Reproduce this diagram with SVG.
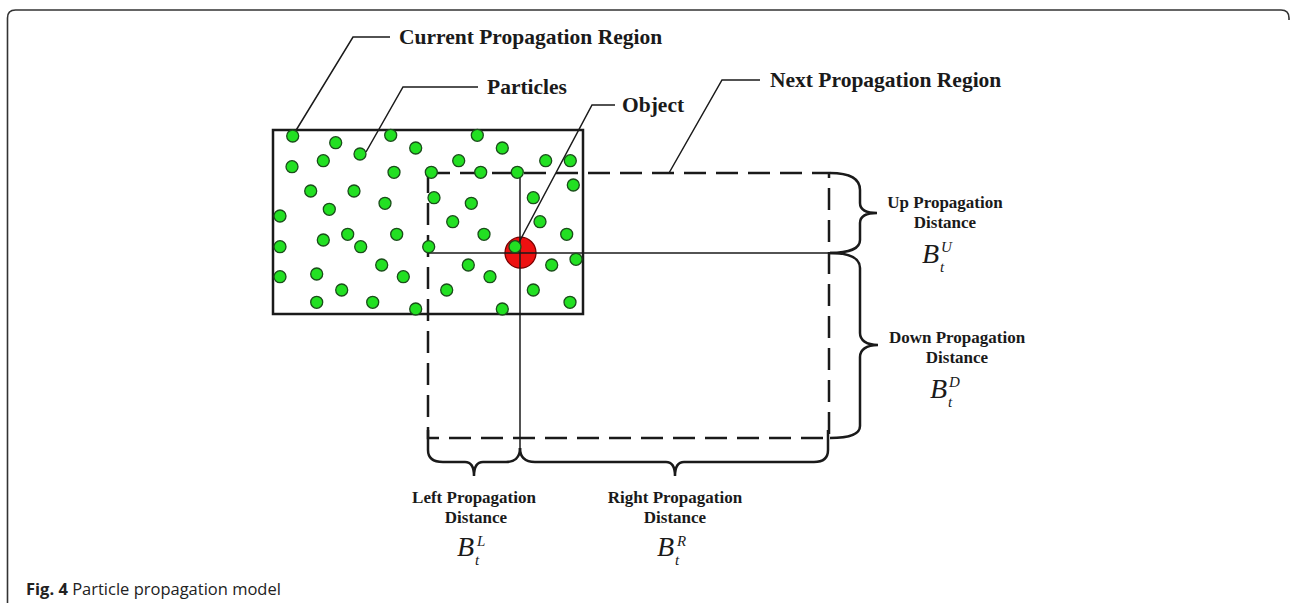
<svg xmlns="http://www.w3.org/2000/svg" width="1291" height="607" viewBox="0 0 1291 607">
<style>
.lbl{font-family:"Liberation Serif","Times New Roman",serif;font-weight:bold;fill:#1a1a1a}
.big{font-size:21.5px}
.sm{font-size:17px}
.math{font-family:"Liberation Serif","Times New Roman",serif;font-style:italic;fill:#1a1a1a}
.p{fill:#22e022;stroke:#1a4d1a;stroke-width:1.3}
.ln{stroke:#1a1a1a;fill:none;stroke-width:1.5}
.br{stroke:#1a1a1a;fill:none;stroke-width:2.5}
</style>
<rect width="1291" height="607" fill="#fff"/>
<path d="M7.5,603 V18 Q7.5,10 15.5,10 H1281 Q1289,10 1289,18 V20" fill="none" stroke="#333" stroke-width="1.6"/>

<g id="current-region">
<rect x="273" y="130" width="310" height="184" fill="none" stroke="#1a1a1a" stroke-width="2.5"/>
</g>
<g id="next-region">
<rect x="428" y="173" width="401" height="265" fill="none" stroke="#1a1a1a" stroke-width="2.5" stroke-dasharray="22 10"/>
</g>
<g id="object">
<circle cx="520.5" cy="252.7" r="15.5" fill="#ee1111" stroke="#7a0000" stroke-width="1.3"/>
</g>

<g id="connectors">
<polyline class="ln" points="295,132 353,37 390,37"/>
<polyline class="ln" points="366,152 403,87 478,87"/>
<polyline class="ln" points="516,248 592,105 615,105"/>
<polyline class="ln" points="669,173 722,80 760,80"/>
<line class="ln" x1="428" y1="253" x2="830" y2="253"/>
<line class="ln" x1="520" y1="173" x2="520" y2="452"/>
<path class="br" d="M830,173 C850,173 860,178 860,190 V203 C860,210 866,213 877,213 C866,213 860,216 860,223 V240 C860,248 850,253 830,253"/>
<path class="br" d="M830,253 C850,253 860,258 860,268 V333 C860,340 866,345 878,345 C866,345 860,350 860,357 V426 C860,434 850,438 830,438"/>
<path class="br" d="M428,430 V450 C428,458 433,462 443,462 H465 C470,462 474,466 474,476 C474,466 478,462 483,462 H506 C514,462 520,458 520,448"/>
<path class="br" d="M520,448 C520,458 526,462 535,462 H666 C671,462 675,466 675,476 C675,466 679,462 684,462 H814 C823,462 828,458 828,450 V430"/>
</g>

<g id="particles">
<circle class="p" cx="292.7" cy="136" r="6"/>
<circle class="p" cx="335.7" cy="142.7" r="6"/>
<circle class="p" cx="390.7" cy="135.3" r="6"/>
<circle class="p" cx="477.3" cy="135.3" r="6"/>
<circle class="p" cx="415.7" cy="148" r="6"/>
<circle class="p" cx="502.3" cy="148" r="6"/>
<circle class="p" cx="360" cy="154" r="6"/>
<circle class="p" cx="292" cy="166.7" r="6"/>
<circle class="p" cx="323.3" cy="160.7" r="6"/>
<circle class="p" cx="394" cy="172.3" r="6"/>
<circle class="p" cx="431.3" cy="172.3" r="6"/>
<circle class="p" cx="458.7" cy="160.7" r="6"/>
<circle class="p" cx="480.7" cy="172.3" r="6"/>
<circle class="p" cx="517.3" cy="172.3" r="6"/>
<circle class="p" cx="545.7" cy="160.7" r="6"/>
<circle class="p" cx="570.3" cy="160.7" r="6"/>
<circle class="p" cx="573.3" cy="185" r="6"/>
<circle class="p" cx="310.7" cy="191" r="6"/>
<circle class="p" cx="354" cy="191" r="6"/>
<circle class="p" cx="434" cy="197.7" r="6"/>
<circle class="p" cx="533.3" cy="197.7" r="6"/>
<circle class="p" cx="471.3" cy="203.3" r="6"/>
<circle class="p" cx="385" cy="203.3" r="6"/>
<circle class="p" cx="329.3" cy="209.3" r="6"/>
<circle class="p" cx="280" cy="216" r="6"/>
<circle class="p" cx="452.7" cy="221.7" r="6"/>
<circle class="p" cx="540" cy="221.7" r="6"/>
<circle class="p" cx="484" cy="234.3" r="6"/>
<circle class="p" cx="566.7" cy="234.3" r="6"/>
<circle class="p" cx="323.3" cy="240" r="6"/>
<circle class="p" cx="347.7" cy="234.3" r="6"/>
<circle class="p" cx="396.7" cy="234.3" r="6"/>
<circle class="p" cx="360.7" cy="246.7" r="6"/>
<circle class="p" cx="280" cy="246.7" r="6"/>
<circle class="p" cx="428.7" cy="246.7" r="6"/>
<circle class="p" cx="515" cy="246.7" r="6"/>
<circle class="p" cx="576" cy="259.3" r="6"/>
<circle class="p" cx="551.7" cy="265" r="6"/>
<circle class="p" cx="468.3" cy="265" r="6"/>
<circle class="p" cx="381.7" cy="265" r="6"/>
<circle class="p" cx="490" cy="276.7" r="6"/>
<circle class="p" cx="403.3" cy="276.7" r="6"/>
<circle class="p" cx="280" cy="276.7" r="6"/>
<circle class="p" cx="316.7" cy="274" r="6"/>
<circle class="p" cx="341.7" cy="290" r="6"/>
<circle class="p" cx="446.7" cy="290" r="6"/>
<circle class="p" cx="533.3" cy="290" r="6"/>
<circle class="p" cx="316.7" cy="302.3" r="6"/>
<circle class="p" cx="372.7" cy="302.3" r="6"/>
<circle class="p" cx="415.7" cy="309" r="6"/>
<circle class="p" cx="502.3" cy="309" r="6"/>
<circle class="p" cx="570" cy="302.3" r="6"/>
</g>

<g id="label-current"><text class="lbl big" x="399" y="44">Current Propagation Region</text></g>
<g id="label-particles"><text class="lbl big" x="487" y="94">Particles</text></g>
<g id="label-object"><text class="lbl big" x="622" y="112">Object</text></g>
<g id="label-next"><text class="lbl big" x="770" y="87">Next Propagation Region</text></g>

<g id="label-up">
<text class="lbl sm" x="945" y="208" text-anchor="middle">Up Propagation</text>
<text class="lbl sm" x="945" y="228" text-anchor="middle">Distance</text>
<text class="math" x="922" y="263" font-size="28">B</text>
<text class="math" x="941" y="252" font-size="15">U</text>
<text class="math" x="940" y="272" font-size="15">t</text>
</g>
<g id="label-down">
<text class="lbl sm" x="957" y="343" text-anchor="middle">Down Propagation</text>
<text class="lbl sm" x="957" y="363" text-anchor="middle">Distance</text>
<text class="math" x="930" y="398" font-size="28">B</text>
<text class="math" x="949" y="387" font-size="15">D</text>
<text class="math" x="948" y="407" font-size="15">t</text>
</g>
<g id="label-left">
<text class="lbl sm" x="474" y="503" text-anchor="middle">Left Propagation</text>
<text class="lbl sm" x="476" y="523" text-anchor="middle">Distance</text>
<text class="math" x="457" y="556" font-size="28">B</text>
<text class="math" x="477" y="546" font-size="15">L</text>
<text class="math" x="475" y="565" font-size="15">t</text>
</g>
<g id="label-right">
<text class="lbl sm" x="675" y="503" text-anchor="middle">Right Propagation</text>
<text class="lbl sm" x="675" y="523" text-anchor="middle">Distance</text>
<text class="math" x="657" y="556" font-size="28">B</text>
<text class="math" x="677" y="546" font-size="15">R</text>
<text class="math" x="675" y="565" font-size="15">t</text>
</g>

<g id="caption">
<text x="26" y="595" font-family="'Open Sans','Noto Sans',sans-serif" font-size="16.5" fill="#222"><tspan font-weight="bold">Fig. 4</tspan> Particle propagation model</text>
</g>
</svg>
